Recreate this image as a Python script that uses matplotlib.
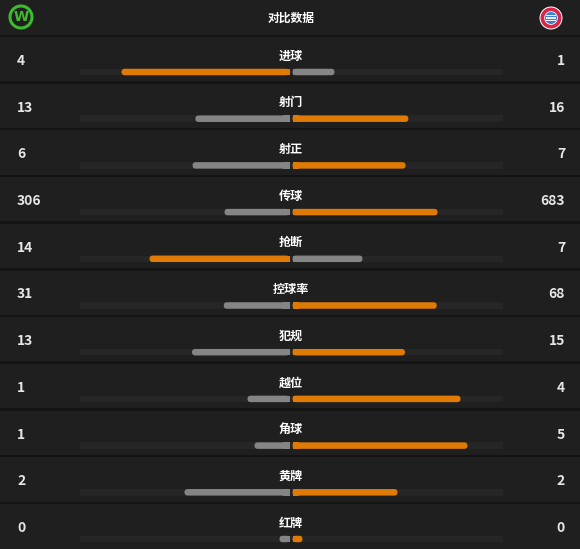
import matplotlib
matplotlib.use("Agg")
import matplotlib.pyplot as plt
from matplotlib.patches import FancyBboxPatch, Rectangle, Circle

plt.rcParams['font.family'] = ['Noto Sans CJK SC', 'DejaVu Sans']

title = "对比数据"
categories = ["进球", "射门", "射正", "传球", "抢断", "控球率", "犯规", "越位", "角球", "黄牌", "红牌"]
home_values = [4, 13, 6, 306, 14, 31, 13, 1, 1, 2, 0]
away_values = [1, 16, 7, 683, 7, 68, 15, 4, 5, 2, 0]

W, H = 580, 549
BG = "#1f1f1f"
TRACK = "#262626"
SEP = "#141414"
ORANGE = "#df7a05"
GRAY = "#858585"
TXT = "#e6e6e6"

fig = plt.figure(figsize=(W / 100, H / 100), dpi=100, facecolor=BG)
ax = fig.add_axes([0, 0, 1, 1])
ax.set_xlim(0, W)
ax.set_ylim(H, 0)
ax.axis("off")
ax.set_facecolor(BG)

center = 291
half = 210
gap = 1.5
bar_h = 6.5
min_len = 10
header_h = 36
pitch = 46.7


def draw_bar(x0, length, y, color, direction):
    r = bar_h / 2
    left = x0 - length if direction < 0 else x0
    ax.add_patch(FancyBboxPatch((left, y - bar_h / 2), length, bar_h,
                                boxstyle=f"round,pad=0,rounding_size={r}",
                                fc=color, ec="none", zorder=3))
    sq_left = x0 - 2 * r if direction < 0 else x0
    ax.add_patch(Rectangle((sq_left, y - bar_h / 2), 2 * r, bar_h, fc=color, ec="none", zorder=3))


# header
ax.text(center, 18, title, ha="center", va="center", color="white", fontsize=8.5, fontweight="bold")
ax.add_patch(Rectangle((0, header_h - 1.5), W, 2.5, fc=SEP, ec="none", zorder=2))

# Wolfsburg-like logo
ax.add_patch(Circle((21, 17), 11, fc="none", ec="#3dbb2e", lw=2.2, zorder=4))
ax.text(21, 17, "W", ha="center", va="center", color="#3dbb2e", fontsize=10, fontweight="bold",
        family="DejaVu Sans", zorder=5)
# Bayern-like logo
ax.add_patch(Circle((551, 18), 11.5, fc="white", ec="none", zorder=4))
ax.add_patch(Circle((551, 18), 10.5, fc="#d8264a", ec="none", zorder=4))
ax.add_patch(Circle((551, 18), 6.8, fc="white", ec="none", zorder=5))
ax.add_patch(Circle((551, 18), 6.0, fc="#3b7fd0", ec="none", zorder=5))
for dy in (-2.5, 0, 2.5):
    ax.add_patch(Rectangle((546, 18 + dy - 0.6), 10, 1.2, fc="#e8eef8", ec="none", zorder=6))

for i, (cat, hv, av) in enumerate(zip(categories, home_values, away_values)):
    top = header_h + pitch * i
    if i > 0:
        ax.add_patch(Rectangle((0, top - 1.5), W, 2.5, fc=SEP, ec="none", zorder=2))
    yl = top + 20
    yn = top + 25
    yb = top + 36
    ax.text(center, yl, cat, ha="center", va="center", color="white", fontsize=8.7, fontweight="bold")
    ax.text(17, yn, str(hv), ha="left", va="center", color=TXT, fontsize=10, fontweight="bold")
    ax.text(565, yn, str(av), ha="right", va="center", color=TXT, fontsize=10, fontweight="bold")
    ax.add_patch(Rectangle((80, yb - bar_h / 2), 423, bar_h, fc=TRACK, ec="none", zorder=2))
    total = hv + av
    lh = half * hv / total if total else 0
    la = half * av / total if total else 0
    lh = max(lh, min_len)
    la = max(la, min_len)
    if hv > av:
        ch, ca = ORANGE, GRAY
    else:
        ch, ca = GRAY, ORANGE
    draw_bar(center - gap, lh, yb, ch, -1)
    draw_bar(center + gap, la, yb, ca, +1)

fig.savefig("out.png", dpi=100, facecolor=BG)
